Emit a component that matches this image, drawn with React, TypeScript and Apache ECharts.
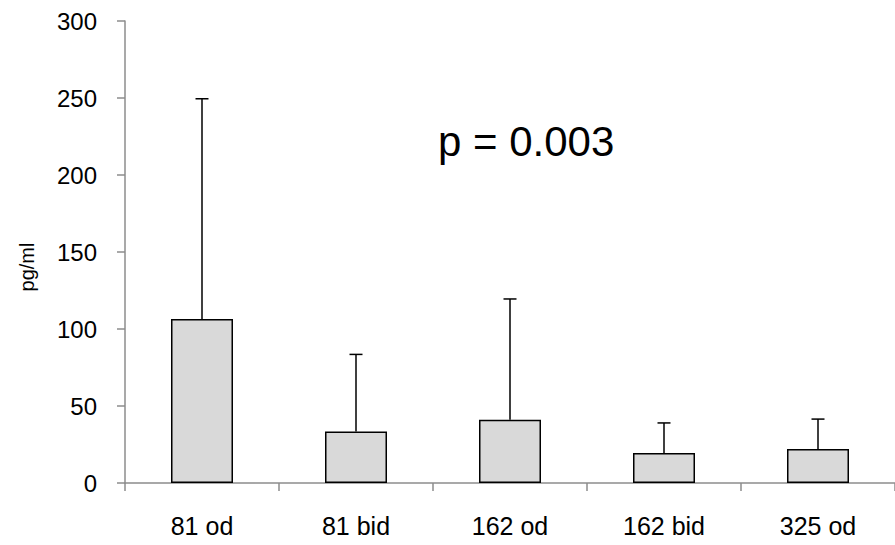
import React, { useEffect, useRef } from "react";
import * as echarts from "echarts";

const categories = ["81 od", "81 bid", "162 od", "162 bid", "325 od"];
const means = [106.5, 33.5, 41, 19.5, 22];
const errorTops = [249.5, 83.5, 119.5, 39, 41.5];
const yTicks = { min: 0, max: 300, interval: 50 };
const annotation = "p = 0.003";
const yName = "pg/ml";

const FONT = "Liberation Sans, Arial, sans-serif";

export default function App() {
  const ref = useRef<HTMLDivElement>(null);
  useEffect(() => {
    if (!ref.current) return;
    const chart = echarts.init(ref.current, undefined, { renderer: "svg" });
    const errData = categories.map((c, i) => [i, means[i], errorTops[i]]);
    chart.setOption({
      animation: false,
      backgroundColor: "#ffffff",
      grid: { left: 125, top: 21, bottom: 62, right: -7, containLabel: false },
      xAxis: {
        type: "category",
        data: categories,
        boundaryGap: true,
        axisLine: { show: true, lineStyle: { color: "#8c8c8c", width: 1.5 } },
        axisTick: { show: true, length: 8, alignWithLabel: false, lineStyle: { color: "#8c8c8c", width: 1.5 } },
        axisLabel: { color: "#000", fontSize: 25, fontFamily: FONT, margin: 30 },
        splitLine: { show: false },
      },
      yAxis: {
        type: "value",
        min: yTicks.min,
        max: yTicks.max,
        interval: yTicks.interval,
        name: yName,
        nameLocation: "middle",
        nameRotate: 90,
        nameGap: 88,
        nameTextStyle: { color: "#000", fontSize: 20, fontFamily: FONT, padding: [0, 30, 0, 0] },
        axisLine: { show: true, lineStyle: { color: "#8c8c8c", width: 1.5 } },
        axisTick: { show: true, length: 8, inside: false, lineStyle: { color: "#8c8c8c", width: 1.5 } },
        axisLabel: { color: "#000", fontSize: 24, fontFamily: FONT, margin: 28 },
        splitLine: { show: false },
      },
      series: [
        {
          type: "bar",
          data: means,
          barWidth: 62,
          itemStyle: { color: "#d9d9d9", borderColor: "#000", borderWidth: 1.5 },
          z: 2,
        },
        {
          type: "custom",
          data: errData,
          z: 3,
          renderItem: (params: any, api: any) => {
            const i = api.value(0);
            const lo = api.coord([i, api.value(1)]);
            const hi = api.coord([i, api.value(2)]);
            const x = lo[0];
            const half = 6.5;
            return {
              type: "group",
              children: [
                {
                  type: "line",
                  shape: { x1: x, y1: lo[1], x2: x, y2: hi[1] },
                  style: { stroke: "#000", lineWidth: 1.5 },
                },
                {
                  type: "line",
                  shape: { x1: x - half, y1: hi[1], x2: x + half, y2: hi[1] },
                  style: { stroke: "#000", lineWidth: 1.5 },
                },
              ],
            };
          },
        },
      ],
      graphic: [
        {
          type: "text",
          left: 438,
          top: 120,
          style: { text: annotation, fill: "#000", fontSize: 42, fontFamily: FONT },
        },
      ],
    });
    return () => chart.dispose();
  }, []);
  return (
    <div
      ref={ref}
      style={{ position: "fixed", left: 0, top: 0, width: 895, height: 545, background: "#fff" }}
    />
  );
}
